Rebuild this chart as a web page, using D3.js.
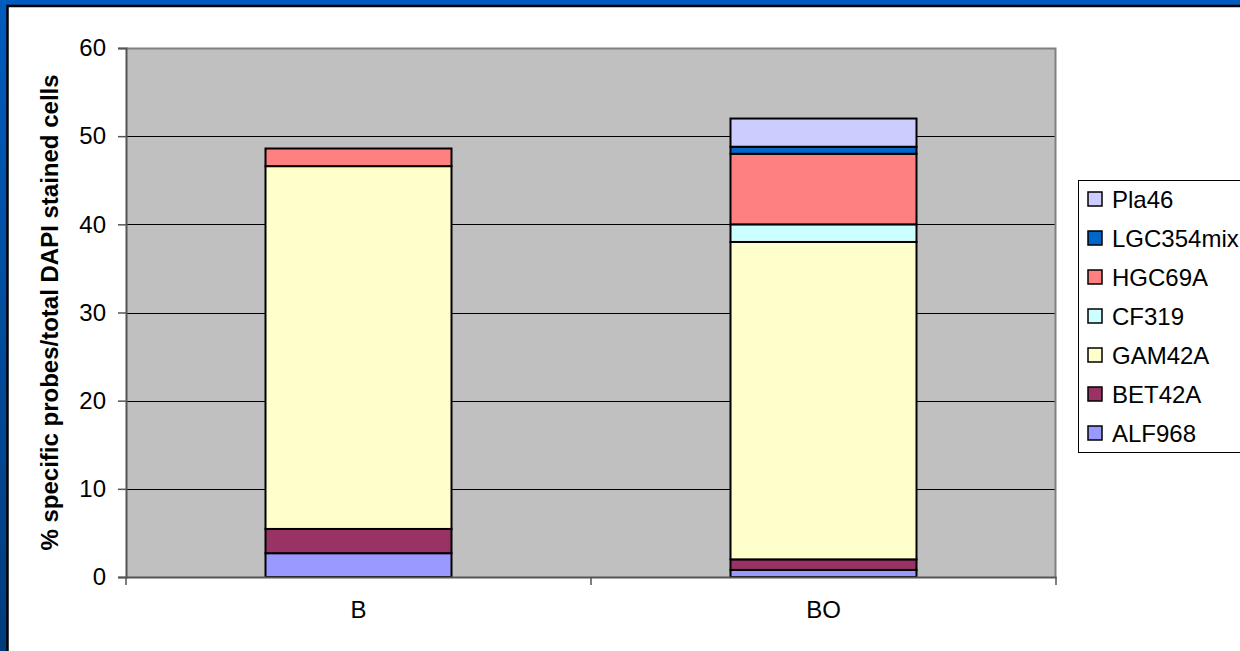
<!DOCTYPE html>
<html>
<head>
<meta charset="utf-8">
<script src="https://cdn.jsdelivr.net/npm/d3@7"></script>
<style>
  html, body { margin: 0; padding: 0; overflow: hidden; }
  body { width: 1240px; height: 651px; }
  svg { display: block; font-family: "Liberation Sans", Arial, sans-serif; }
</style>
</head>
<body>
<svg id="chart"></svg>
<script>
// data
let categories = ['B', 'BO']
let seriesNames = ['ALF968', 'BET42A', 'GAM42A', 'CF319', 'HGC69A', 'LGC354mix', 'Pla46']
let seriesColors = ['#9999FF', '#993366', '#FFFFCC', '#CCFFFF', '#FF8080', '#0066CC', '#CCCCFF']
let ALF968 = [2.7, 0.8]
let BET42A = [2.75, 1.2]
let GAM42A = [41.15, 36.0]
let CF319 = [0, 2.0]
let HGC69A = [2.0, 8.0]
let LGC354mix = [0, 0.8]
let Pla46 = [0, 3.2]
let yTicks = [0, 10, 20, 30, 40, 50, 60]

let width = 1240
let height = 651
let plotLeft = 126
let plotRight = 1056
let plotTop = 48
let plotBottom = 577
let fontSize = 24

let svg = d3.select('#chart').attr('width', width).attr('height', height)

// blue slide frame
let defs = svg.append('defs')
let grad = defs.append('linearGradient').attr('id', 'frame').attr('x1', 0).attr('y1', 0).attr('x2', 0).attr('y2', 1)
grad.append('stop').attr('offset', '0%').attr('stop-color', '#005CBE')
grad.append('stop').attr('offset', '100%').attr('stop-color', '#003C7C')
svg.append('rect').attr('width', width).attr('height', height).attr('fill', 'url(#frame)')
svg.append('rect')
    .attr('x', 7.5).attr('y', 6)
    .attr('width', width + 20).attr('height', height + 20)
    .attr('fill', '#ffffff').attr('stroke', '#000000').attr('stroke-width', 2.5)

let rows = categories.map((c, i) => {
    let row = { category: c }
    row['ALF968'] = ALF968[i]
    row['BET42A'] = BET42A[i]
    row['GAM42A'] = GAM42A[i]
    row['CF319'] = CF319[i]
    row['HGC69A'] = HGC69A[i]
    row['LGC354mix'] = LGC354mix[i]
    row['Pla46'] = Pla46[i]
    return row
})

let stacked = d3.stack().keys(seriesNames)(rows)

let xScale = d3.scaleBand()
    .domain(categories)
    .range([plotLeft, plotRight])
    .paddingInner(0.6)
    .paddingOuter(0.3)

let yScale = d3.scaleLinear()
    .domain([0, 60])
    .range([plotBottom, plotTop])

let colorScale = d3.scaleOrdinal().domain(seriesNames).range(seriesColors)

// plot area
svg.append('rect')
    .attr('x', plotLeft).attr('y', plotTop)
    .attr('width', plotRight - plotLeft).attr('height', plotBottom - plotTop)
    .attr('fill', '#C0C0C0')

// gridlines
svg.append('g')
    .selectAll('line')
    .data(yTicks.filter(t => t > 0 && t < 60))
    .enter()
    .append('line')
    .attr('x1', plotLeft).attr('x2', plotRight)
    .attr('y1', d => Math.round(yScale(d)) + 0.5)
    .attr('y2', d => Math.round(yScale(d)) + 0.5)
    .attr('stroke', '#000000').attr('stroke-width', 1.2)

// top and right border
svg.append('path')
    .attr('d', 'M' + plotLeft + ',' + (plotTop + 0.5) + 'H' + (plotRight - 0.5) + 'V' + plotBottom)
    .attr('fill', 'none').attr('stroke', '#808080').attr('stroke-width', 2)

// bars
svg.append('g')
    .selectAll('g')
    .data(stacked)
    .enter()
    .append('g')
    .attr('fill', d => colorScale(d.key))
    .selectAll('rect')
    .data(d => d.filter(p => p[1] - p[0] > 0))
    .enter()
    .append('rect')
    .attr('x', d => xScale(d.data.category))
    .attr('y', d => yScale(d[1]))
    .attr('width', xScale.bandwidth())
    .attr('height', d => yScale(d[0]) - yScale(d[1]))
    .attr('stroke', '#000000')
    .attr('stroke-width', 2)

// y axis
let yAxis = d3.axisLeft(yScale).tickValues(yTicks).tickSize(8).tickPadding(12)
let yG = svg.append('g')
    .attr('transform', 'translate(' + plotLeft + ', 0)')
    .call(yAxis)
yG.select('.domain').attr('stroke', '#555555').attr('stroke-width', 2)
yG.selectAll('.tick line').attr('stroke', '#555555').attr('stroke-width', 1.5)
yG.selectAll('text').attr('font-size', fontSize).attr('fill', '#000000')
    .attr('font-family', '"Liberation Sans", Arial, sans-serif')

// x axis: ticks at category boundaries
let xAxis = d3.axisBottom(xScale).tickSize(0).tickPadding(24)
let xG = svg.append('g')
    .attr('transform', 'translate(0, ' + plotBottom + ')')
    .call(xAxis)
xG.select('.domain').attr('stroke', '#555555').attr('stroke-width', 2)
xG.selectAll('text').attr('font-size', fontSize).attr('fill', '#000000')
    .attr('font-family', '"Liberation Sans", Arial, sans-serif')
let boundaries = [plotLeft, (plotLeft + plotRight) / 2, plotRight]
xG.selectAll('.bound')
    .data(boundaries)
    .enter()
    .append('line')
    .attr('x1', d => d).attr('x2', d => d)
    .attr('y1', 0).attr('y2', 8)
    .attr('stroke', '#555555').attr('stroke-width', 1.5)

// y axis title
svg.append('text')
    .attr('transform', 'translate(58, ' + ((plotTop + plotBottom) / 2) + ') rotate(-90)')
    .attr('text-anchor', 'middle')
    .attr('font-size', fontSize)
    .attr('font-weight', 'bold')
    .text('% specific probes/total DAPI stained cells')

// legend, top entry is the last series
let legendItems = seriesNames.slice().reverse()
let legend = svg.append('g')
legend.append('rect')
    .attr('x', 1078.5).attr('y', 180.5)
    .attr('width', 200).attr('height', 272)
    .attr('fill', '#ffffff').attr('stroke', '#000000').attr('stroke-width', 1)
let items = legend.selectAll('.item')
    .data(legendItems)
    .enter()
    .append('g')
    .attr('transform', (d, i) => 'translate(0, ' + (199 + i * 39) + ')')
items.append('rect')
    .attr('x', 1088).attr('y', -7)
    .attr('width', 14).attr('height', 14)
    .attr('fill', d => colorScale(d))
    .attr('stroke', '#000000').attr('stroke-width', 1.5)
items.append('text')
    .attr('x', 1112).attr('y', 8.5)
    .attr('font-size', fontSize)
    .text(d => d)
</script>
</body>
</html>
